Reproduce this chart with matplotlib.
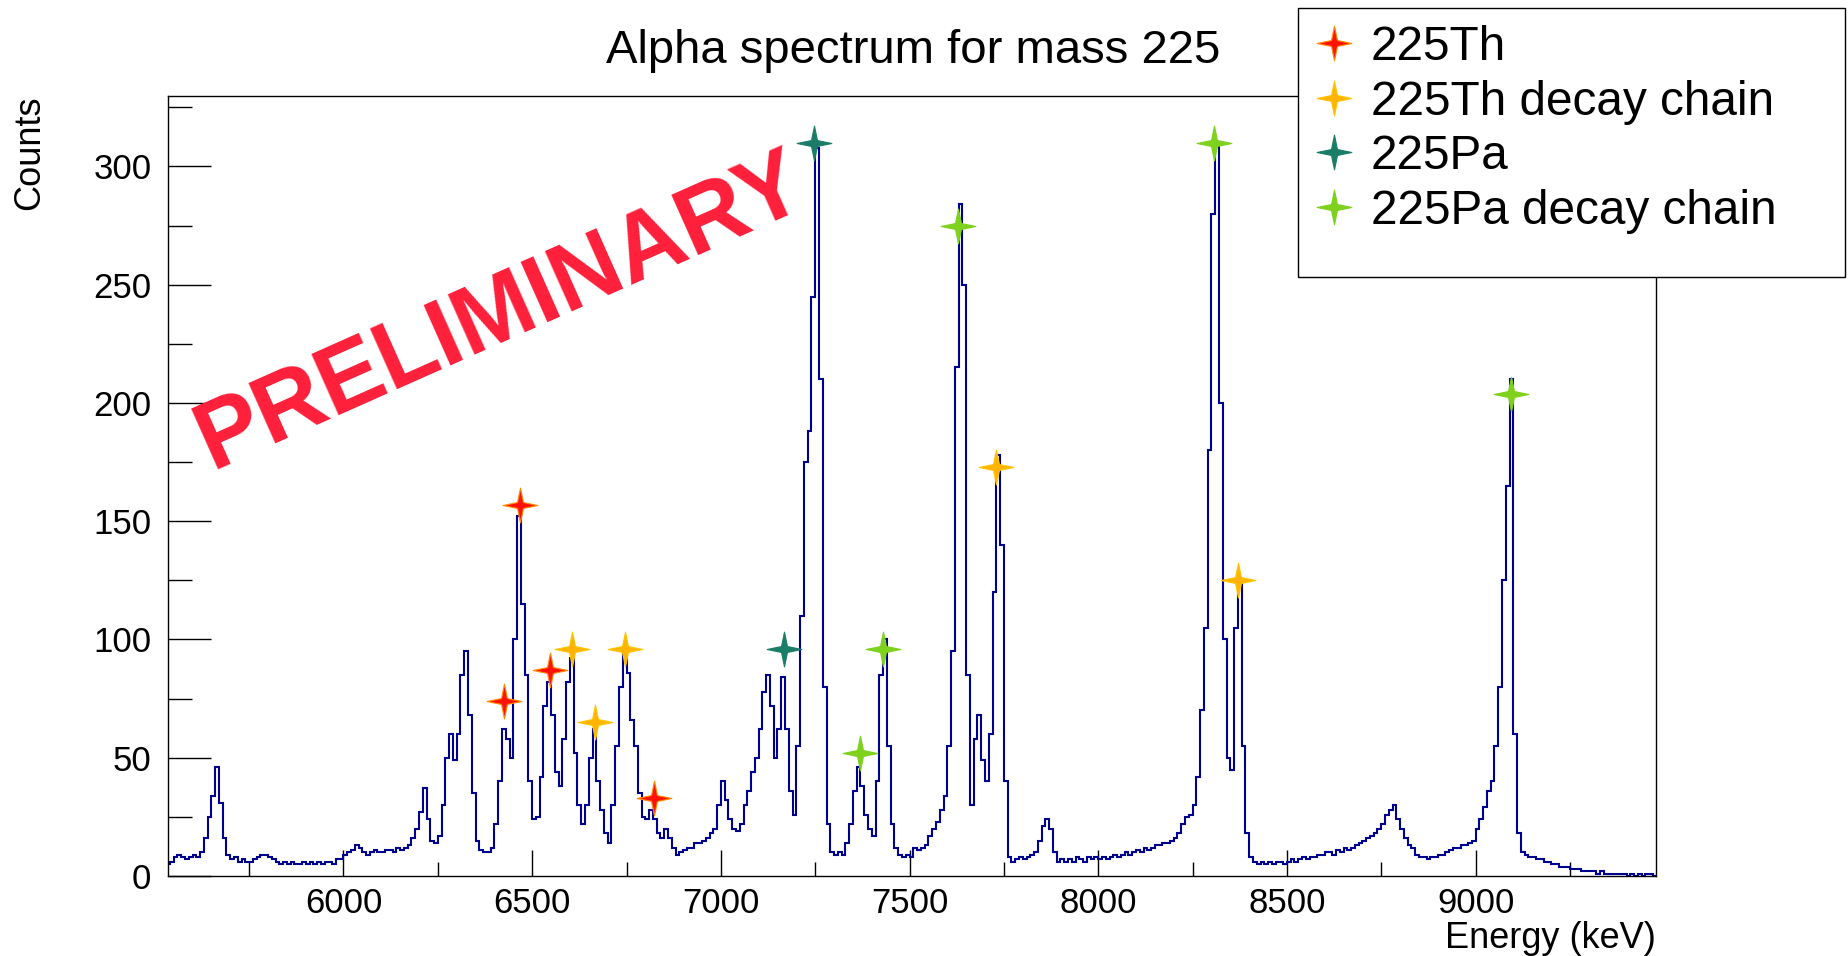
import numpy as np
import matplotlib
matplotlib.use('Agg')
import matplotlib.pyplot as plt
from matplotlib.path import Path
from matplotlib.patches import Rectangle

plt.rcParams['font.family'] = ['Liberation Sans', 'DejaVu Sans']

# histogram: 10 keV bins from 5500 keV, one row per 100 keV
bin_start = 5500
bin_width = 10
counts = [
    4, 5, 5, 5, 6, 8, 9, 8, 7, 8,              # 5500
    9, 8, 10, 16, 25, 34, 46, 31, 16, 9,       # 5600
    7, 8, 6, 7, 6, 6, 7, 8, 9, 9,              # 5700
    8, 7, 6, 5, 6, 5, 6, 5, 5, 6,              # 5800
    5, 6, 5, 6, 5, 6, 6, 5, 7, 7,              # 5900
    9, 10, 11, 13, 12, 10, 9, 10, 11, 10,      # 6000
    10, 11, 11, 10, 12, 11, 12, 13, 16, 20,    # 6100
    27, 37, 24, 15, 14, 17, 30, 50, 60, 49,    # 6200
    60, 85, 95, 68, 35, 15, 11, 10, 10, 12,    # 6300
    22, 40, 62, 58, 50, 100, 152, 115, 85, 40, # 6400
    24, 25, 42, 72, 82, 68, 44, 38, 58, 82,    # 6500
    92, 52, 30, 22, 30, 50, 62, 40, 28, 18,    # 6600
    14, 30, 55, 80, 94, 86, 66, 55, 35, 25,    # 6700
    24, 28, 24, 18, 16, 20, 16, 12, 9, 10,     # 6800
    11, 12, 12, 14, 14, 15, 16, 18, 20, 30,    # 6900
    40, 32, 24, 20, 19, 22, 30, 36, 44, 50,    # 7000
    62, 78, 85, 72, 50, 62, 84, 62, 36, 26,    # 7100
    55, 110, 175, 188, 245, 308, 210, 80, 22, 10,  # 7200
    9, 10, 9, 14, 22, 36, 46, 38, 26, 20,      # 7300
    17, 40, 85, 100, 55, 22, 12, 9, 8, 9,      # 7400
    8, 12, 11, 12, 13, 17, 20, 23, 28, 34,     # 7500
    55, 95, 215, 284, 250, 85, 30, 58, 68, 49, # 7600
    40, 60, 120, 178, 140, 40, 8, 6, 7, 8,     # 7700
    7, 8, 9, 10, 15, 21, 24, 20, 10, 6,        # 7800
    7, 6, 7, 6, 8, 7, 6, 8, 7, 8,              # 7900
    7, 8, 7, 8, 9, 8, 9, 10, 9, 10,            # 8000
    11, 10, 12, 11, 12, 13, 13, 14, 14, 15,    # 8100
    16, 18, 22, 25, 26, 30, 42, 70, 105, 180,  # 8200
    280, 310, 200, 100, 50, 45, 105, 124, 55, 18,  # 8300
    8, 6, 5, 6, 5, 6, 5, 6, 6, 5,              # 8400
    6, 7, 6, 7, 8, 7, 8, 8, 9, 9,              # 8500
    10, 10, 9, 11, 10, 12, 11, 12, 13, 14,     # 8600
    15, 16, 17, 18, 20, 22, 26, 28, 30, 24,    # 8700
    20, 16, 13, 12, 9, 8, 8, 7, 8, 8,          # 8800
    9, 9, 10, 11, 12, 12, 13, 13, 14, 15,      # 8900
    20, 24, 29, 36, 40, 55, 80, 125, 165, 210, # 9000
    60, 18, 10, 9, 8, 8, 7, 7, 6, 6,           # 9100
    5, 5, 4, 4, 4, 3, 3, 3, 2, 2,              # 9200
    2, 2, 1, 2, 1, 1, 1, 1, 1, 1,              # 9300
    0, 1, 0, 1, 0, 1, 1, 0, 1, 0,              # 9400
]

# identified lines (energy keV, counts)
th225_e = [6426, 6467, 6546, 6823]
th225_c = [74, 157, 87, 33]
th_chain_e = [6606, 6666, 6747, 7729, 8370]
th_chain_c = [96, 65, 96, 173, 125]
pa225_e = [7168, 7248]
pa225_c = [96, 310]
pa_chain_e = [7369, 7430, 7629, 8308, 9095]
pa_chain_c = [52, 96, 275, 310, 204]

series = [
    ('225Th', th225_e, th225_c, '#ff1000', '#ff8a00'),
    ('225Th decay chain', th_chain_e, th_chain_c, '#ffb400', '#ffc400'),
    ('225Pa', pa225_e, pa225_c, '#1a7d68', '#1a7d68'),
    ('225Pa decay chain', pa_chain_e, pa_chain_c, '#7ed11c', '#7ed11c'),
]

# four pointed star like ROOT's marker
a = 0.17
star = Path([(0, 1), (a, a), (1, 0), (a, -a), (0, -1), (-a, -a), (-1, 0), (-a, a), (0, 1)],
            [Path.MOVETO] + [Path.LINETO] * 7 + [Path.CLOSEPOLY])

W, H = 1848, 956
fig = plt.figure(figsize=(W / 100, H / 100), dpi=100)
ax = fig.add_axes([168 / W, 1 - 876 / H, (1656 - 168) / W, (876 - 95.5) / H])

edges = bin_start + bin_width * np.arange(len(counts) + 1)
ax.stairs(counts, edges, color='#00008f', lw=1.5, zorder=2)

handles = []
for label, ex, cy, fc, ec in series:
    h, = ax.plot(ex, cy, ls='none', marker=star, ms=25, mfc=fc, mec=ec, mew=0.8,
                 zorder=4, label=label)
    handles.append(h)

ax.set_xlim(5535, 9478)
ax.set_ylim(0, 330)
ax.set_xticks(np.arange(6000, 9001, 500))
ax.set_xticks(np.arange(5750, 9478, 250), minor=True)
ax.set_yticks(np.arange(0, 301, 50))
ax.set_yticks(np.arange(0, 330, 25), minor=True)
ax.tick_params(axis='both', which='both', direction='in', labelsize=25, width=1.0)
ax.tick_params(axis='x', which='major', length=19, pad=8)
ax.tick_params(axis='x', which='minor', length=10)
ax.tick_params(axis='y', which='major', length=31, pad=12)
ax.tick_params(axis='y', which='minor', length=17)
for sp in ax.spines.values():
    sp.set_linewidth(1.0)

ax.set_xlabel('Energy (keV)', fontsize=26, ha='right', va='top')
ax.xaxis.set_label_coords(1.0, -0.058)
ax.set_ylabel('Counts', fontsize=26, ha='right', va='center')
ax.yaxis.set_label_coords(-0.093, 1.0)

fig.text(913 / W, 1 - 51 / H, 'Alpha spectrum for mass 225', fontsize=34,
         ha='center', va='center')

ax.text(0.224, 0.7226, 'PRELIMINARY', transform=ax.transAxes, fontsize=69,
        fontweight='bold', color='#ff1f3a', rotation=24, ha='center', va='center',
        zorder=5)

# legend box
fig.patches.append(Rectangle((1298 / W, 1 - 277 / H), (1845 - 1298) / W, (277 - 8) / H,
                             transform=fig.transFigure, facecolor='white',
                             edgecolor='black', lw=1.0, zorder=10))
leg = fig.legend(handles=handles, loc='upper left', bbox_to_anchor=(1315 / W, 1 - 25 / H),
                 frameon=False, fontsize=34.4, handlelength=0.8, handletextpad=0.374,
                 labelspacing=0.2, borderpad=0, borderaxespad=0)
leg.set_zorder(11)

fig.savefig('out.png', dpi=100)
